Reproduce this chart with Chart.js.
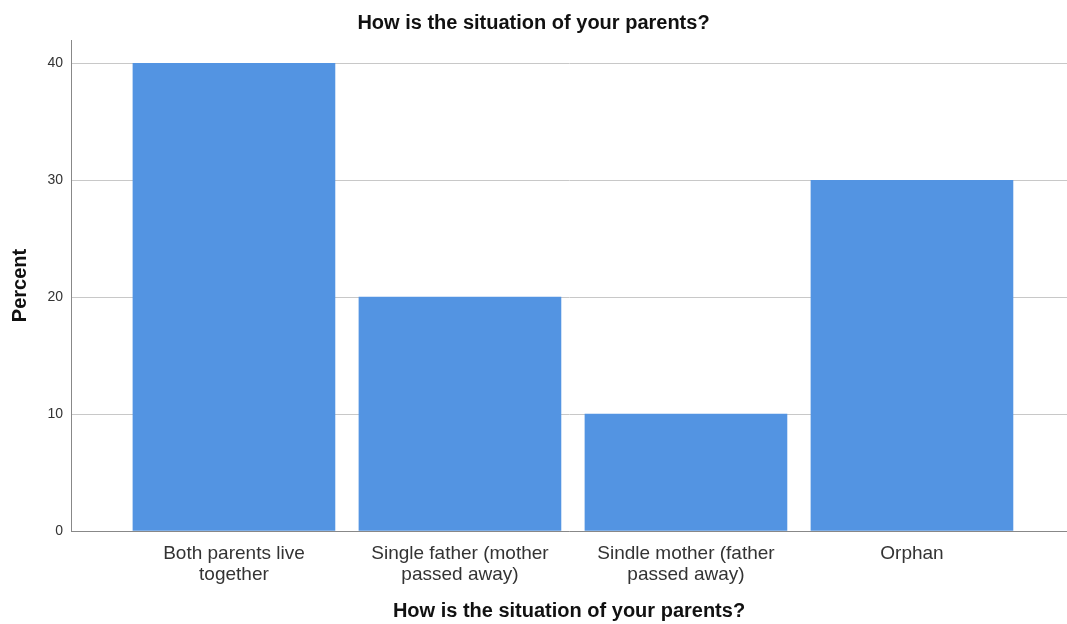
<!DOCTYPE html>
<html lang="en">
<head>
  <meta charset="UTF-8">
  <title>How is the situation of your parents?</title>
  <script src="https://cdn.jsdelivr.net/npm/chart.js"></script>
  <style>
    body { margin: 0; background: #fff; }
    .wrap { width: 1067px; height: 624px; }
  </style>
</head>
<body>
<div class="wrap">
  <canvas id="bar-chart"></canvas>
</div>
<script>
// data
const categories = [
  ['Both parents live', 'together'],
  ['Single father (mother', 'passed away)'],
  ['Sindle mother (father', 'passed away)'],
  ['Orphan']
];
const percents = [40, 20, 10, 30];
const yTicks = [0, 10, 20, 30, 40];

const font = "'Liberation Sans', Arial, sans-serif";

new Chart(document.getElementById('bar-chart').getContext('2d'), {
  type: 'bar',
  data: {
    datasets: [{
      label: 'Percent',
      data: percents.map((v, i) => ({ x: i, y: v })),
      backgroundColor: '#5394e2',
      borderWidth: 0,
      barThickness: 202
    }]
  },
  options: {
    responsive: true,
    maintainAspectRatio: false,
    animation: false,
    layout: { padding: { left: 0, right: 0, top: 0, bottom: 0 } },
    plugins: {
      legend: { display: false },
      tooltip: { enabled: false },
      title: {
        display: true,
        text: 'How is the situation of your parents?',
        color: '#111',
        font: { family: font, size: 20, weight: 'bold', lineHeight: 1.2 },
        padding: { top: 11, bottom: 5 }
      }
    },
    scales: {
      x: {
        type: 'linear',
        offset: false,
        min: -0.721,
        max: 3.686,
        afterBuildTicks: axis => { axis.ticks = categories.map((c, i) => ({ value: i })); },
        afterFit: scale => { scale.height = 93; },
        grid: { display: false, drawTicks: false },
        border: { color: '#888', width: 1 },
        ticks: {
          autoSkip: false,
          maxRotation: 0,
          padding: 12,
          color: '#333',
          font: { family: font, size: 19, lineHeight: 1.1 },
          callback: v => categories[v]
        },
        title: {
          display: true,
          text: 'How is the situation of your parents?',
          color: '#111',
          font: { family: font, size: 20, weight: 'bold', lineHeight: 1.2 },
          padding: { top: 0, bottom: 1 }
        }
      },
      y: {
        min: 0,
        max: 42,
        afterBuildTicks: axis => { axis.ticks = yTicks.map(v => ({ value: v })); },
        afterFit: scale => { scale.width = 71; },
        grid: { color: '#c8c8c8', drawTicks: false },
        border: { color: '#888', width: 1 },
        ticks: {
          padding: 8,
          color: '#333',
          font: { family: font, size: 14 }
        },
        title: {
          display: true,
          text: 'Percent',
          color: '#111',
          font: { family: font, size: 20, weight: 'bold', lineHeight: 1.2 },
          padding: { top: 8, bottom: 10 }
        }
      }
    }
  }
});
</script>
</body>
</html>
